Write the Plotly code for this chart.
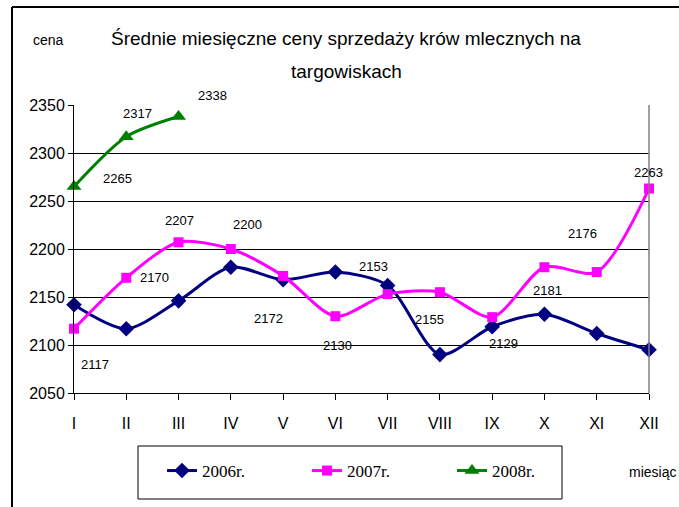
import plotly.graph_objects as go

months = ["I", "II", "III", "IV", "V", "VI", "VII", "VIII", "IX", "X", "XI", "XII"]
y2006 = [2142, 2117, 2146, 2181, 2168, 2176, 2162, 2090, 2119, 2132, 2112, 2095]
y2007 = [2117, 2170, 2207, 2200, 2172, 2130, 2153, 2155, 2129, 2181, 2176, 2263]
y2008 = [2265, 2317, 2338]
series_names = ["2006r.", "2007r.", "2008r."]
y_ticks = [2050, 2100, 2150, 2200, 2250, 2300, 2350]

# label offsets in pixels (dx right, dy down) – styling only
off2007 = [(21, 36), (28, 0), (1, -22), (17, -25), (-15, 43), (2, 29),
           (-14, -28), (-10, 27), (11, 26), (3, 23), (-14, -39), (-1, -16)]
off2008 = [(43, -8), (11, -23), (34, -21)]

W, H = 679, 507
L, R, T, B = 74, 649, 105, 393

fig = go.Figure()
styles = [
    dict(color="#000080", symbol="diamond", size=12),
    dict(color="#FF00FF", symbol="square", size=10),
    dict(color="#008000", symbol="triangle-up", size=13),
]
for name, ys, st in zip(series_names, [y2006, y2007, y2008], styles):
    fig.add_trace(go.Scatter(
        x=months[:len(ys)], y=ys, name=name, mode="lines+markers", cliponaxis=False,
        line=dict(color=st["color"], width=3, shape="spline", smoothing=0.8),
        marker=dict(symbol=st["symbol"], size=st["size"], color=st["color"]),
    ))

def px_x(px):
    return (px - L) / (R - L)

def px_y(py):
    return (B - py) / (B - T)

lab_font = dict(family="Liberation Sans", size=13, color="black")
ann = []
for m, v, (dx, dy) in zip(months, y2007, off2007):
    ann.append(dict(x=m, y=v, text=str(v), showarrow=False, xshift=dx, yshift=-dy,
                    xanchor="center", yanchor="middle", font=lab_font))
for m, v, (dx, dy) in zip(months, y2008, off2008):
    ann.append(dict(x=m, y=v, text=str(v), showarrow=False, xshift=dx, yshift=-dy,
                    xanchor="center", yanchor="middle", font=lab_font))

def txt(px, py, text, size):
    return dict(xref="paper", yref="paper", x=px_x(px), y=px_y(py), showarrow=False,
                xanchor="center", yanchor="middle", text=text,
                font=dict(family="Liberation Sans", size=size, color="black"))

ann += [
    txt(346, 39, "Średnie miesięczne ceny sprzedaży krów mlecznych na", 19),
    txt(346, 71, "targowiskach", 19),
    txt(48, 40, "cena", 14),
    txt(652, 472, "miesiąc", 14),
]

shapes = [
    # outer frame (left and top)
    dict(type="line", xref="paper", yref="paper", x0=px_x(12), x1=px_x(12),
         y0=px_y(7), y1=px_y(510), line=dict(color="black", width=2)),
    dict(type="line", xref="paper", yref="paper", x0=px_x(12), x1=px_x(690),
         y0=px_y(7), y1=px_y(7), line=dict(color="black", width=2)),
    # plot area right border
    dict(type="line", xref="paper", yref="paper", x0=1, x1=1, y0=0, y1=1,
         line=dict(color="#808080", width=1.5)),
    # legend box
    dict(type="rect", xref="paper", yref="paper", x0=px_x(138), x1=px_x(562),
         y0=px_y(446), y1=px_y(499), line=dict(color="black", width=1),
         fillcolor="white", layer="below"),
]

fig.update_layout(
    width=W, height=H,
    margin=dict(l=L, r=W - R, t=T, b=H - B),
    paper_bgcolor="white", plot_bgcolor="white",
    showlegend=True,
    legend=dict(orientation="h", x=px_x(162), xanchor="left", y=px_y(471), yanchor="middle",
                font=dict(family="Liberation Serif", size=17, color="black"),
                bgcolor="rgba(0,0,0,0)", borderwidth=0,
                entrywidth=100, entrywidthmode="pixels"),
    annotations=ann, shapes=shapes,
    xaxis=dict(type="category", categoryorder="array", categoryarray=months,
               range=[0, 11], showgrid=False, showline=True, linecolor="black", linewidth=1,
               ticks="outside", ticklen=6, tickcolor="black", ticklabelstandoff=10,
               tickfont=dict(family="Liberation Sans", size=16, color="black"),
               zeroline=False, fixedrange=True),
    yaxis=dict(range=[2050, 2350], tickvals=y_ticks, showgrid=True, gridcolor="black",
               gridwidth=1, showline=True, linecolor="black", linewidth=1,
               ticks="outside", ticklen=5, tickcolor="black",
               tickfont=dict(family="Liberation Sans", size=16, color="black"),
               zeroline=False, fixedrange=True),
)

fig.write_html("out.html", config={"displayModeBar": False},
               post_script="document.body.style.margin='0px';")
